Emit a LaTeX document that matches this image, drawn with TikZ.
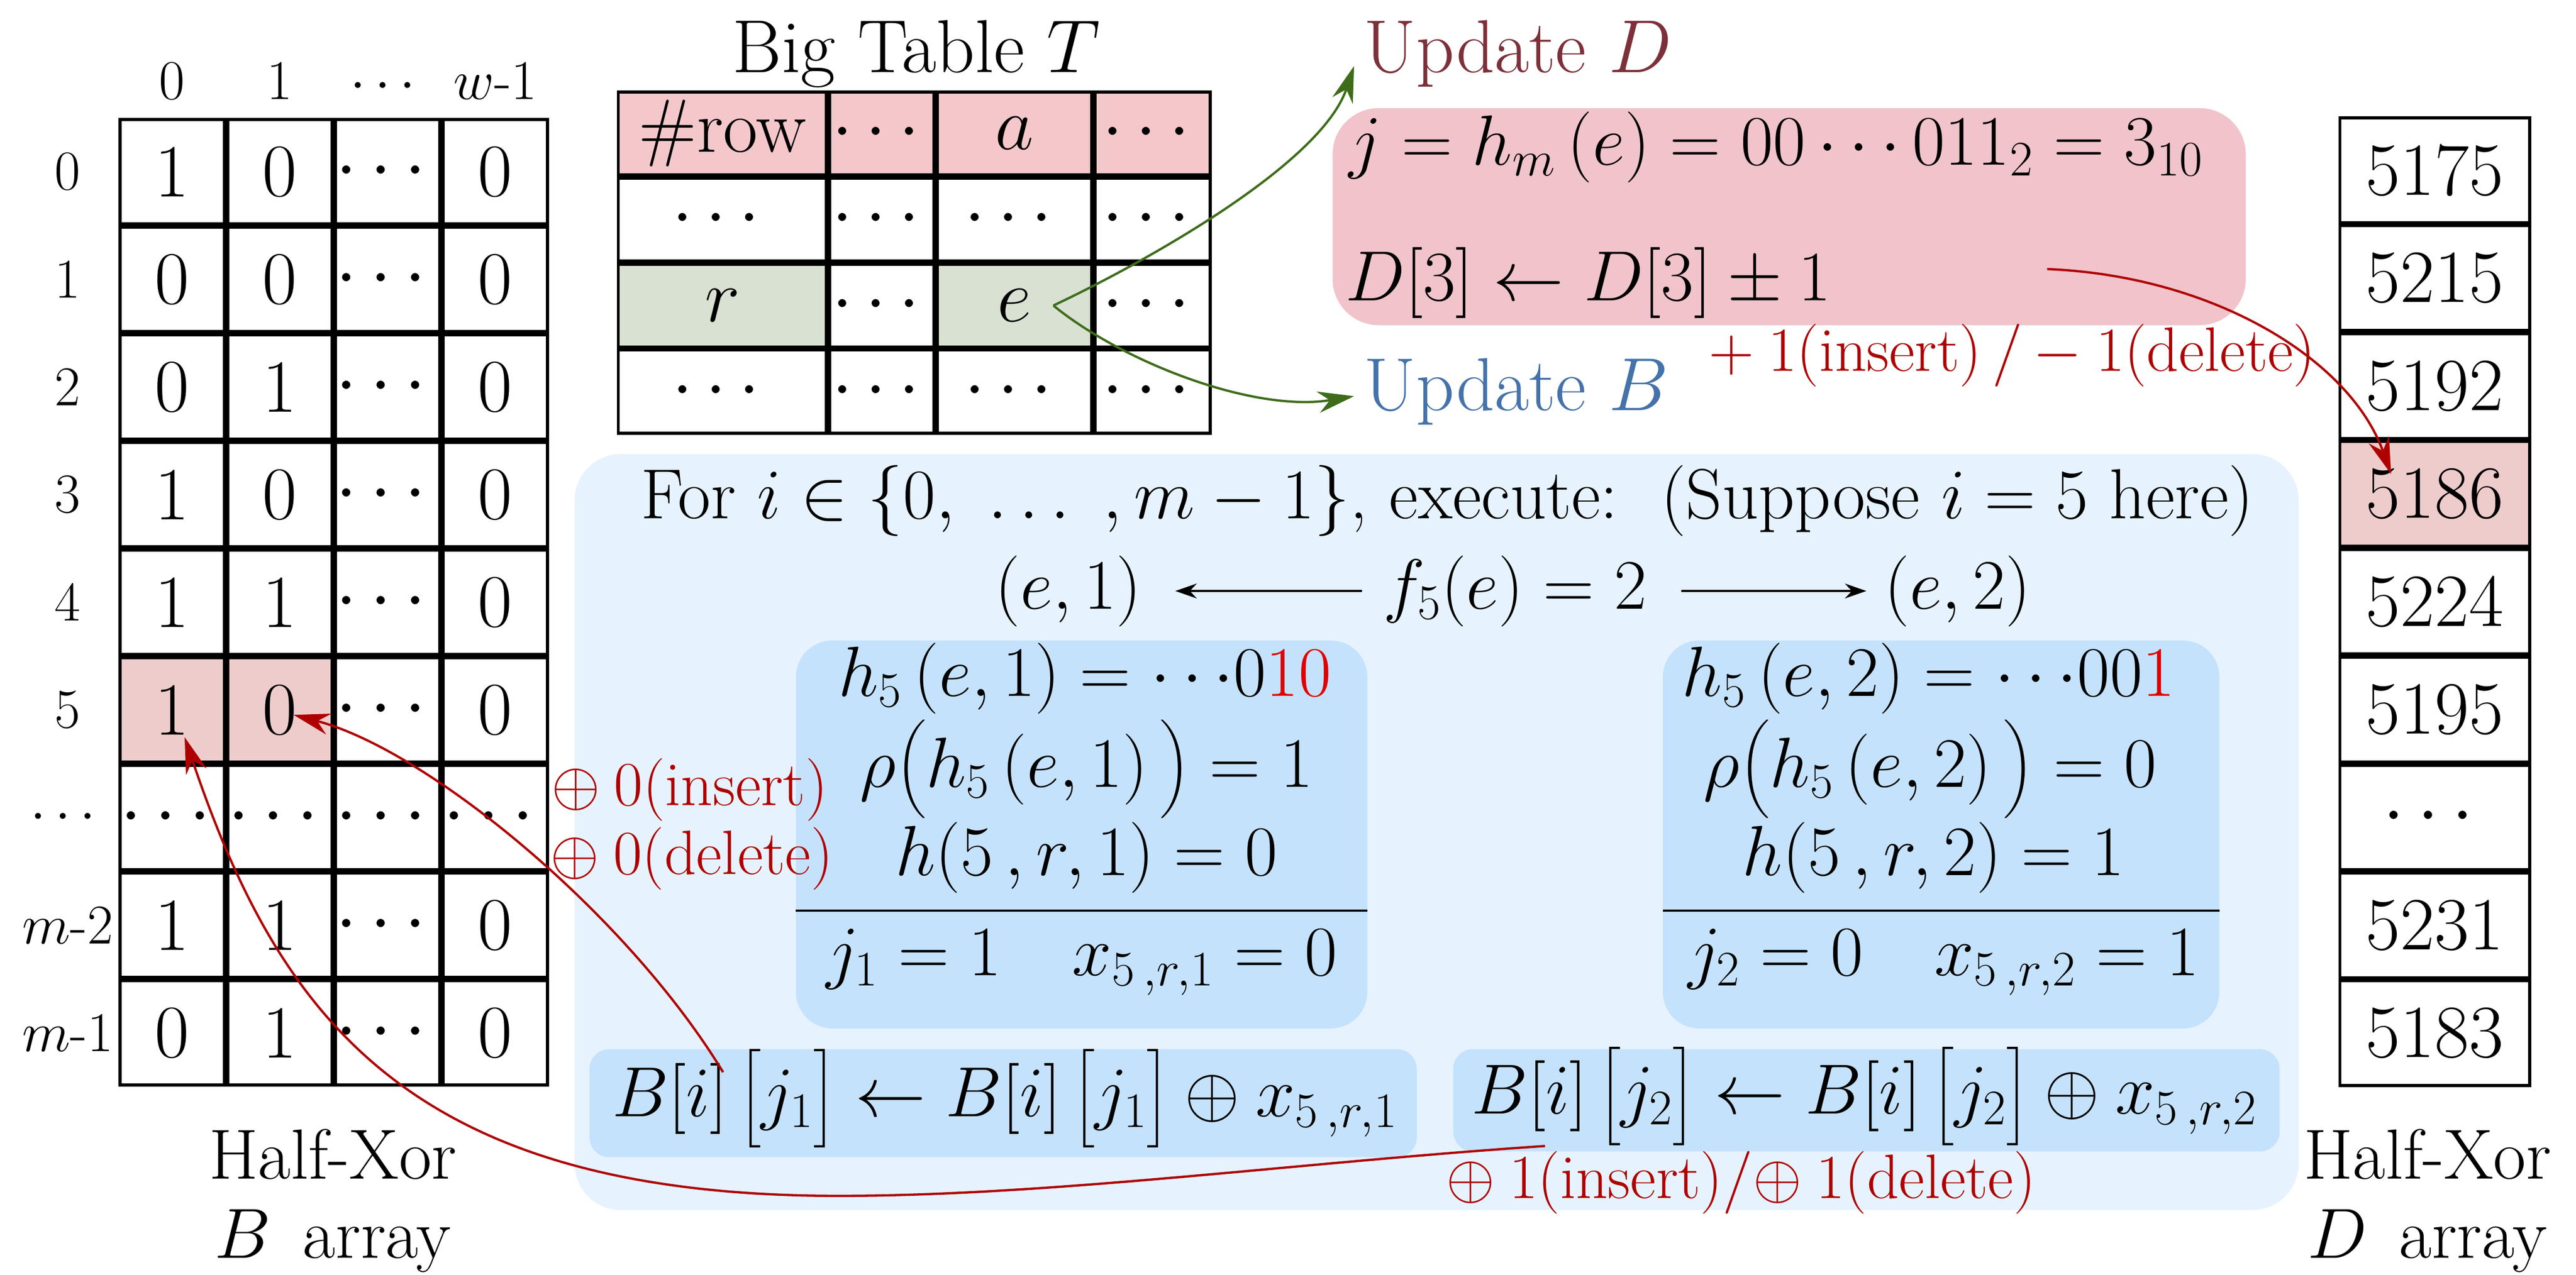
\RequirePackage{fix-cm}
\documentclass[tikz,border=0pt]{standalone}
\usepackage{amsmath}
\usepackage{tikz}
\usetikzlibrary{arrows.meta,calc,matrix,positioning}

\definecolor{pinkT}{RGB}{244,199,203}
\definecolor{pinkD}{RGB}{241,195,202}
\definecolor{pinkB}{RGB}{239,204,204}
\definecolor{greenT}{RGB}{216,225,210}
\definecolor{blueBig}{RGB}{230,243,254}
\definecolor{blueIn}{RGB}{197,226,252}
\definecolor{redArr}{RGB}{175,0,0}
\definecolor{redBit}{RGB}{225,0,0}
\definecolor{greenArr}{RGB}{62,108,26}
\definecolor{colD}{RGB}{125,48,58}
\definecolor{colB}{RGB}{68,114,170}

\newcommand{\bigtxt}{\fontsize{43}{48}\selectfont}
\newcommand{\celltxt}{\fontsize{45.5}{52}\selectfont}
\newcommand{\labtxt}{\fontsize{34}{40}\selectfont}
\newcommand{\redtxt}{\fontsize{38}{44}\selectfont}
\newcommand{\cdts}{{\fontsize{47}{47}\selectfont$\cdots$}}

\begin{document}
\begin{tikzpicture}[x=1pt,y=-1pt,line width=1.9pt,
  >={Stealth[length=22pt,width=13pt]}]
    \tikzstyle{cell}=[draw, anchor=center, minimum width=63.3pt, minimum height=63.3pt, inner sep=0pt, outer sep=0pt, font=\celltxt]
    \tikzstyle{tcell}=[draw, anchor=center, minimum height=50.25pt, inner sep=0pt, outer sep=0pt, font=\celltxt]
    \tikzstyle{dcell}=[draw, anchor=center, minimum width=115pt, minimum height=63.45pt, inner sep=0pt, outer sep=0pt, font=\celltxt]
    \tikzstyle{panel}=[rounded corners=28pt, inner sep=0pt, outer sep=0pt]
    \tikzstyle{txt}=[inner sep=0pt, font=\bigtxt]
    \tikzstyle{lab}=[inner sep=0pt, font=\labtxt]
    \tikzstyle{redlab}=[inner sep=0pt, font=\redtxt, text=redArr, anchor=base west]
    \tikzstyle{redarrow}=[->, draw=redArr, line width=1.4pt]
    \tikzstyle{greenarrow}=[->, draw=greenArr, line width=1.4pt]
    \tikzstyle{rule}=[line width=1.3pt]

    \useasboundingbox (0,0) rectangle (1560,772.3);

    % panels
    \node[panel, fill=blueBig, minimum width=1044pt, minimum height=458pt] (bigbox) at (870,504) {};
    \node[panel, fill=pinkD, minimum width=553pt, minimum height=131.5pt] (dbox) at (1083.5,131.25) {};
    \node[panel, fill=blueIn, rounded corners=22pt, minimum width=346pt, minimum height=235pt] (hbox1) at (655,505.5) {};
    \node[panel, fill=blueIn, rounded corners=22pt, minimum width=337pt, minimum height=235pt] (hbox2) at (1175.5,505.5) {};
    \node[panel, fill=blueIn, rounded corners=12pt, minimum width=501pt, minimum height=65.5pt] (ubox1) at (607.5,668.25) {};
    \node[panel, fill=blueIn, rounded corners=12pt, minimum width=500.5pt, minimum height=62pt] (ubox2) at (1130.25,666.5) {};

    % B array
    \matrix[matrix of nodes, nodes={cell}] (B) at (202.1,364.85) {
      1 & 0 & \cdts & 0\\
      0 & 0 & \cdts & 0\\
      0 & 1 & \cdts & 0\\
      1 & 0 & \cdts & 0\\
      1 & 1 & \cdts & 0\\
      |[fill=pinkB]| 1 & |[fill=pinkB]| 0 & \cdts & 0\\
      \cdts & \cdts & \cdts & \cdts\\
      1 & 1 & \cdts & 0\\
      0 & 1 & \cdts & 0\\
    };
    \foreach \c/\t in {1/0,2/1,3/$\cdots$,4/$w$-1}
      \node[lab, anchor=base] (bh\c) at (B-1-\c.north |- 0,60) {\t};
    \foreach \r/\t in {1/0,2/1,3/2,4/3,5/4,6/5,7/$\cdots$,8/$m$-2,9/$m$-1}
      \node[lab] (bl\r) at (41,0 |- B-\r-1) {\t};
    \node[txt, anchor=north, align=center] (blab) at (201.6,683) {Half-Xor\\$B$\hspace{0.45em}array};

    % big table T
    \node[txt, font=\celltxt, anchor=base] (ttl) at (555,44) {Big Table $T$};
    \matrix[matrix of nodes, nodes={tcell},
      column 1/.style={nodes={minimum width=126.1pt}},
      column 2/.style={nodes={minimum width=63.3pt}},
      column 3/.style={nodes={minimum width=93.5pt}},
      column 4/.style={nodes={minimum width=69.8pt}},
      row 1/.style={nodes={fill=pinkT}}] (T) at (553.65,159) {
      \#row & $\cdots$ & $a$ & $\cdots$\\
      $\cdots$ & $\cdots$ & $\cdots$ & $\cdots$\\
      |[fill=greenT]| $r$ & $\cdots$ & |[fill=greenT]| $e$ & $\cdots$\\
      $\cdots$ & $\cdots$ & $\cdots$ & $\cdots$\\
    };

    % D array
    \matrix[matrix of nodes, nodes={dcell}] (D) at (1474.5,364.5) {
      5175\\ 5215\\ 5192\\ |[fill=pinkB]| 5186\\ 5224\\ 5195\\ \cdts\\ 5231\\ 5183\\
    };
    \node[txt, anchor=north, align=center] (dlab) at (1470,683) {Half-Xor\\$D$\hspace{0.45em}array};

    % update D
    \node[txt, font=\celltxt, anchor=base west, text=colD] (updD) at (825,44) {Update $D$};
    \node[txt, font=\celltxt, anchor=base west, text=colB] (updB) at (825,248.7) {Update $B$};
    \node[txt, anchor=base west] (dj) at (816,100) {$j=h_m\left(e\right)=00\cdots011_2=3_{10}$};
    \node[txt, anchor=base west] (dup) at (814,182) {$D[3]\leftarrow D[3]\pm1$};
    \node[redlab] (pm) at (1034,224.75) {$+\:1(\text{insert})\,/\,\mathord{-}\:1(\text{delete})$};

    % update B
    \node[txt, anchor=base] (forl) at (876.5,314) {For $i\in\{0,\ \ldots\ ,m-1\}$, execute:\hspace{0.6em}(Suppose\ $i=5$\ here)};
    \node[txt] (f5) at (917.5,358) {$f_5(e)=2$};
    \node[txt, left=144.5pt of f5] (e1) {$(e,1)$};
    \node[txt, right=142pt of f5] (e2) {$(e,2)$};
    \draw[line width=1.3pt, -{Stealth[length=13pt,width=9pt]}, shorten <=12pt, shorten >=19.5pt] (f5.west) -- (e1.east);
    \draw[line width=1.3pt, -{Stealth[length=13pt,width=9pt]}, shorten <=20pt, shorten >=10pt] (f5.east) -- (e2.west);

    \node[txt, anchor=base] (h1a) at (657,421.75) {$h_5\left(e,1\right)=\mathord{\cdots}0\textcolor{redBit}{10}$};
    \node[txt, anchor=base] (h1b) at (658,476.75) {$\rho\big(h_5\left(e,1\right)\big)=1$};
    \node[txt, anchor=base] (h1c) at (658,530.25) {$h(5\,,r,1)=0$};
    \draw[rule] (hbox1.west |- 0,551.5) -- (hbox1.east |- 0,551.5);
    \node[txt, anchor=base] (h1d) at (655,590.75) {$j_1=1\quad x_{5\,,r,1}=0$};

    \node[txt, anchor=base] (h2a) at (1168,421.75) {$h_5\left(e,2\right)=\mathord{\cdots}00\textcolor{redBit}{1}$};
    \node[txt, anchor=base] (h2b) at (1169,476.75) {$\rho\big(h_5\left(e,2\right)\big)=0$};
    \node[txt, anchor=base] (h2c) at (1171,530.25) {$h(5\,,r,2)=1$};
    \draw[rule] (hbox2.west |- 0,551.5) -- (hbox2.east |- 0,551.5);
    \node[txt, anchor=base] (h2d) at (1177,590.75) {$j_2=0\quad x_{5\,,r,2}=1$};

    \node[txt, anchor=base] (u1) at (608.5,676.25) {$B[i]\,\big[j_1\big]\leftarrow B[i]\,\big[j_1\big]\oplus x_{5\,,r,1}$};
    \node[txt, anchor=base] (u2) at (1129,674.75) {$B[i]\,\big[j_2\big]\leftarrow B[i]\,\big[j_2\big]\oplus x_{5\,,r,2}$};

    \node[redlab] (ins0) at (333,487.75) {$\oplus\:0(\text{insert})$};
    \node[redlab] (del0) at (332.5,529.75) {$\oplus\:0(\text{delete})$};
    \node[redlab] (ins1) at (875,725.75) {$\oplus\:1(\text{insert})/\mathord{\oplus}\:1(\text{delete})$};

    % connectors
    \coordinate (gsrc) at ($(T-3-3.center)+(23.5,0)$);
    \draw[greenarrow] (gsrc) .. controls +(53,-25) and +(-20,60) .. ($(updD.base west)+(-5,-4)$);
    \draw[greenarrow] (gsrc) .. controls +(43,35) and +(-60,10) .. ($(updB.base west)+(-5,-8.7)$);

    \coordinate (dsrc) at ($(dup.base east)+(130,-19)$);
    \draw[redarrow] (dsrc) .. controls +(100,4) and +(-25,-70) .. ($(D-4-1.center)+(-26.5,-12)$);

    \coordinate (srcA) at ($(ubox2.south west)+(55.6,-3.3)$);
    \coordinate (lowA) at (507.7,724.4);
    \draw[redarrow] (srcA) .. controls +(-150,10) and +(130,0) .. (lowA)
      .. controls +(-260,0) and +(57.2,169.4) .. ($(B-6-1.center)+(7.5,16.5)$);

    \coordinate (srcB) at ($(ubox1.north west)+(80.9,14)$);
    \draw[redarrow] (srcB) .. controls +(-58.5,-96.2) and +(81.2,21.2) .. ($(B-6-2.center)+(8.3,3)$);

\end{tikzpicture}
\end{document}
